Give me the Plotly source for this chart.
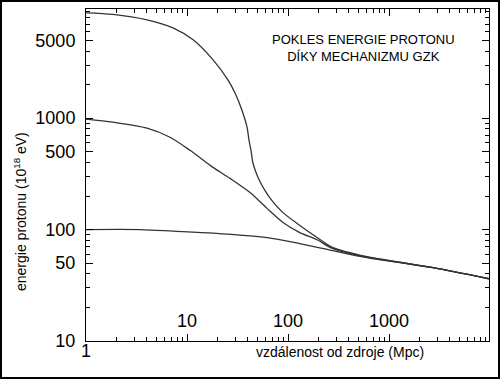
import math
import plotly.graph_objects as go

# distances (Mpc) and proton energies (10^18 eV)
x_top = [1, 1.85, 4.02, 7.27, 11.5, 18.1, 25.5, 29.9, 35.0, 39.3, 41.1, 43.0, 45.0, 50.5, 59.2, 69.4, 89.2, 131, 194, 279, 605, 1284, 2730, 9770]
y_top = [8830, 8550, 7640, 6470, 5050, 3340, 2200, 1680, 1180, 830, 634, 515, 394, 294, 224, 182, 142, 109, 85, 68.9, 57.1, 50.9, 45.5, 36.2]

x_mid = [1, 1.85, 4.02, 6.78, 10.7, 18.1, 26.7, 42.1, 62, 89.2, 131, 194, 279, 605, 1284, 2730, 9770]
y_mid = [980, 920, 813, 674, 515, 362, 288, 215, 155, 116, 94, 81, 67.4, 56.5, 50.7, 45.5, 36.2]

x_low = [1, 3.42, 7.27, 18.1, 62, 131, 279, 605, 1284, 2730, 9770]
y_low = [100, 100, 96.9, 93, 84.7, 74.8, 64.7, 56, 50.5, 45.5, 36.2]

x_tick_vals = [1, 10, 100, 1000]
x_tick_text = ["1", "10", "100", "1000"]
y_tick_vals = [10, 50, 100, 500, 1000, 5000]
y_tick_text = ["10", "50", "100", "500", "1000", "5000"]
x_minor = [m * d for d in [1, 10, 100, 1000] for m in range(2, 10)]
y_minor = [m * d for d in [10, 100, 1000] for m in [2, 3, 4, 6, 7, 8, 9]]

X_RANGE = [0, 3.99]
Y_RANGE = [1, 3.98]

W, H = 500, 379
ML, MR, MT, MB = 86, 11, 9, 38
PW, PH = W - ML - MR, H - MT - MB

def px(xp):
    return (xp - ML) / PW

def py(yp):
    return (H - MB - yp) / PH

fig = go.Figure()
for xs, ys in [(x_top, y_top), (x_mid, y_mid), (x_low, y_low)]:
    fig.add_trace(go.Scatter(x=xs, y=ys, mode="lines",
                             line=dict(color="#333333", width=1.3, shape="spline", smoothing=0.8),
                             showlegend=False, hoverinfo="skip"))

font = "Liberation Sans, Arial, sans-serif"
fig.update_layout(
    width=W, height=H,
    margin=dict(l=ML, r=MR, t=MT, b=MB),
    paper_bgcolor="white", plot_bgcolor="white",
    font=dict(family=font, color="black"),
    xaxis=dict(type="log", range=X_RANGE, showgrid=False, zeroline=False,
               showline=True, linecolor="black", linewidth=1, mirror="allticks",
               ticks="inside", ticklen=7, tickwidth=1, tickcolor="black",
               tickmode="array", tickvals=x_tick_vals[1:], showticklabels=False,
               minor=dict(tickmode="array", tickvals=x_minor, ticks="inside",
                          ticklen=4, tickwidth=1, tickcolor="black", showgrid=False)),
    yaxis=dict(type="log", range=Y_RANGE, showgrid=False, zeroline=False,
               showline=True, linecolor="black", linewidth=1, mirror="allticks",
               ticks="inside", ticklen=7, tickwidth=1, tickcolor="black",
               tickmode="array", tickvals=y_tick_vals, ticktext=y_tick_text,
               ticklabelstandoff=6, tickfont=dict(size=18, family=font),
               minor=dict(tickmode="array", tickvals=y_minor, ticks="inside",
                          ticklen=4, tickwidth=1, tickcolor="black", showgrid=False)),
)

for v, t in zip(x_tick_vals, x_tick_text):
    yy = py(351) if v == 1 else py(321)
    fig.add_annotation(x=math.log10(v), xref="x", y=yy, yref="paper", text=t,
                       showarrow=False, font=dict(size=18, family=font),
                       xanchor="center", yanchor="middle")

fig.add_annotation(x=px(340), y=py(352), xref="paper", yref="paper",
                   text="vzdálenost od zdroje (Mpc)", showarrow=False,
                   font=dict(size=14, family=font), xanchor="center", yanchor="middle")
fig.add_annotation(x=px(20), y=py(212), xref="paper", yref="paper",
                   text="energie protonu (10<sup>18</sup> eV)", textangle=-90, showarrow=False,
                   font=dict(size=14, family=font), xanchor="center", yanchor="middle")
fig.add_annotation(x=px(363), y=py(48), xref="paper", yref="paper",
                   text="POKLES ENERGIE PROTONU<br>DÍKY MECHANIZMU GZK", showarrow=False,
                   font=dict(size=13, family=font), xanchor="center", yanchor="middle")

fig.add_shape(type="rect", xref="paper", yref="paper",
              x0=px(1), x1=px(W - 1), y0=py(H - 1), y1=py(1),
              line=dict(color="black", width=2), fillcolor="rgba(0,0,0,0)", layer="above")

fig.write_html("out.html", config={"staticPlot": True, "displayModeBar": False},
               post_script="document.body.style.margin='0';document.body.style.overflow='hidden';")
